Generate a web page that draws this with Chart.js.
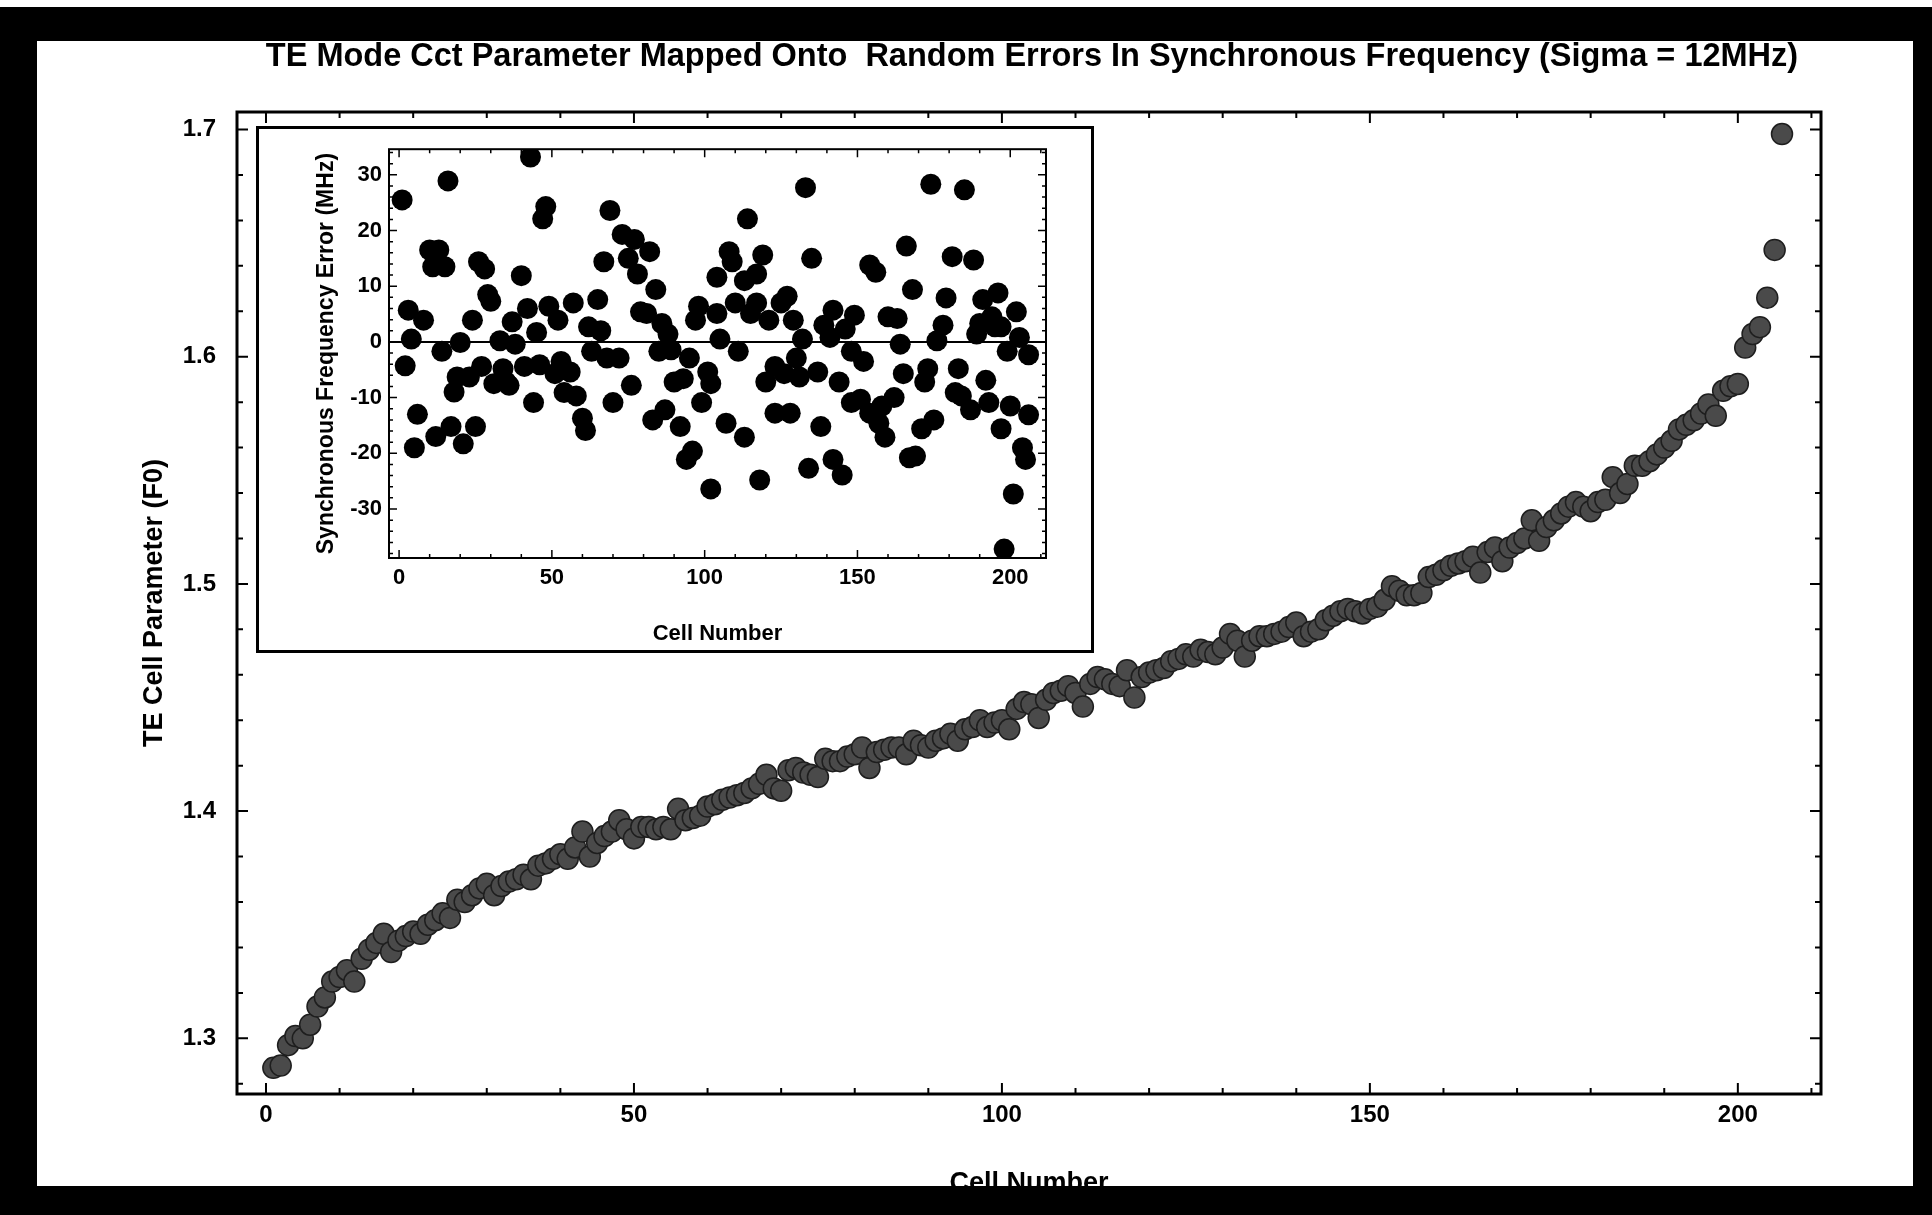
<!DOCTYPE html>
<html>
<head>
<meta charset="utf-8">
<title>TE Mode Cct Parameter</title>
<script src="https://cdn.jsdelivr.net/npm/chart.js@4.4.1/dist/chart.umd.min.js"></script>
<style>
  html, body { margin: 0; padding: 0; background: #fff; }
  body { width: 1932px; height: 1215px; position: relative; overflow: hidden; font-family: "Liberation Sans", Arial, sans-serif; }
  .band { position: absolute; background: #000; z-index: 10; }
  #mainChart { position: absolute; left: 0; top: 0; z-index: 1; }
  #title { position: absolute; left: 1032px; top: 36px; transform: translateX(-50%); font-weight: bold; font-size: 32.5px; line-height: 38px; white-space: pre; z-index: 3; color: #000; }
  #inset { position: absolute; left: 256px; top: 126px; width: 838px; height: 527px; box-sizing: border-box; border: 3px solid #000; background: #fff; z-index: 2; }
  #insetChart { position: absolute; left: 0; top: 0; }
</style>
</head>
<body>
<div class="band" style="left:0;top:7px;width:1932px;height:34px"></div>
<div class="band" style="left:0;top:7px;width:37px;height:1208px"></div>
<div class="band" style="left:1913px;top:7px;width:19px;height:1208px"></div>
<div class="band" style="left:0;top:1186px;width:1932px;height:29px"></div>

<div id="title">TE Mode Cct Parameter Mapped Onto  Random Errors In Synchronous Frequency (Sigma = 12MHz)</div>
<canvas id="mainChart" width="1932" height="1215"></canvas>
<div id="inset"><canvas id="insetChart" width="832" height="521"></canvas></div>

<script>
// main plot: TE cell parameter for each cell
const cellNumbers = Array.from({ length: 206 }, (_, i) => i + 1);
const teParameter = [
  1.287, 1.288, 1.297, 1.301, 1.300, 1.306, 1.314, 1.318, 1.325, 1.327,
  1.330, 1.325, 1.335, 1.339, 1.342, 1.346, 1.338, 1.343, 1.345, 1.347,
  1.346, 1.350, 1.352, 1.355, 1.353, 1.361, 1.360, 1.363, 1.366, 1.368,
  1.363, 1.367, 1.369, 1.370, 1.372, 1.370, 1.376, 1.377, 1.379, 1.381,
  1.379, 1.384, 1.391, 1.380, 1.386, 1.389, 1.391, 1.396, 1.392, 1.388,
  1.393, 1.393, 1.392, 1.393, 1.392, 1.401, 1.396, 1.397, 1.398, 1.402,
  1.403, 1.405, 1.406, 1.407, 1.408, 1.410, 1.412, 1.416, 1.410, 1.409,
  1.418, 1.419, 1.417, 1.416, 1.415, 1.423, 1.422, 1.422, 1.424, 1.425,
  1.428, 1.419, 1.426, 1.427, 1.428, 1.428, 1.425, 1.431, 1.429, 1.428,
  1.431, 1.432, 1.434, 1.431, 1.436, 1.437, 1.440, 1.437, 1.439, 1.440,
  1.436, 1.445, 1.448, 1.447, 1.441, 1.449, 1.452, 1.453, 1.455, 1.452,
  1.446, 1.456, 1.459, 1.458, 1.456, 1.455, 1.462, 1.450, 1.459, 1.461,
  1.462, 1.463, 1.466, 1.467, 1.469, 1.468, 1.471, 1.470, 1.469, 1.472,
  1.478, 1.475, 1.468, 1.475, 1.477, 1.477, 1.478, 1.479, 1.481, 1.483,
  1.477, 1.479, 1.480, 1.484, 1.486, 1.488, 1.489, 1.488, 1.487, 1.489,
  1.490, 1.493, 1.499, 1.497, 1.495, 1.495, 1.496, 1.503, 1.504, 1.506,
  1.508, 1.509, 1.510, 1.512, 1.505, 1.514, 1.516, 1.510, 1.516, 1.518,
  1.520, 1.528, 1.519, 1.525, 1.528, 1.531, 1.534, 1.536, 1.534, 1.532,
  1.536, 1.537, 1.547, 1.540, 1.544, 1.552, 1.552, 1.554, 1.557, 1.560,
  1.563, 1.568, 1.570, 1.572, 1.575, 1.579, 1.574, 1.585, 1.587, 1.588,
  1.604, 1.610, 1.613, 1.626, 1.647, 1.698
];
const mainXTicks = [0, 50, 100, 150, 200];
const mainYTicks = [1.3, 1.4, 1.5, 1.6, 1.7];

// inset: synchronous frequency error (MHz) per cell
const insetCells = [
  1, 2, 3, 4, 5, 6, 8, 10, 11, 12,
  13, 14, 15, 16, 17, 18, 19, 20, 21, 23,
  24, 25, 26, 27, 28, 29, 30, 31, 33, 34,
  35, 36, 37, 38, 40, 41, 42, 43, 44, 45,
  47, 48, 46, 49, 51, 52, 53, 54, 56, 57,
  58, 60, 61, 62, 63, 65, 66, 67, 68, 69,
  70, 72, 73, 75, 76, 77, 78, 79, 81, 82,
  83, 84, 85, 86, 87, 88, 89, 90, 92, 93,
  94, 95, 96, 97, 98, 99, 101, 102, 102, 104,
  104, 105, 107, 108, 109, 110, 111, 113, 113, 114,
  115, 117, 117, 118, 119, 120, 121, 123, 123, 125,
  126, 127, 128, 129, 130, 131, 132, 133, 134, 135,
  137, 138, 139, 141, 142, 142, 144, 145, 146, 148,
  149, 148, 151, 152, 154, 154, 156, 157, 158, 159,
  160, 162, 163, 164, 165, 166, 167, 168, 169, 171,
  172, 173, 174, 175, 176, 178, 179, 181, 182, 183,
  184, 185, 187, 188, 189, 190, 191, 192, 193, 194,
  195, 196, 197, 197, 199, 198, 200, 201, 202, 203,
  204, 205, 206, 206
];
const freqErrors = [
  25.5, -4.3, 5.7, 0.5, -19, -13, 3.9, 16.5, 13.5, -17,
  16.5, -1.7, 13.5, 28.9, -15.2, -9, -6.3, -0.1, -18.3, -6.3,
  3.9, -15.2, 14.4, -4.4, 13.1, 8.5, 7.3, -7.5, 0.2, -4.8,
  -7.2, -7.8, 3.6, -0.4, 11.9, -4.4, 6, 33.2, -10.9, 1.7,
  22.1, 24.3, -4.1, 6.4, -5.7, 3.9, -3.5, -9.1, -5.4, 7,
  -9.7, -13.7, -15.9, 2.7, -1.7, 7.6, 2, 14.4, -2.9, 23.6,
  -10.9, -2.9, 19.3, 15, -7.8, 18.4, 12.2, 5.4, 5.1, 16.2,
  -14, 9.4, -1.7, 3.3, -12.2, 1.4, -1.4, -7.2, -15.2, -6.6,
  -21.1, -2.9, -19.6, 3.9, 6.4, -10.9, -5.4, -7.5, -26.4, 5.1,
  11.6, 0.5, -14.6, 16.2, 14.4, 7, -1.7, -17.1, 11, 22.1,
  5.1, 12.2, 7, -24.8, 15.6, -7.2, 3.9, -4.4, -12.8, 7,
  -5.7, 8.2, -12.8, 3.9, -2.9, -6.3, 0.5, 27.7, -22.7, 15,
  -5.4, -15.2, 3, 0.8, 5.7, -21.1, -7.2, -23.9, 2.3, -1.7,
  4.8, -10.9, -10.3, -3.5, -12.8, 13.8, 12.5, -14.6, -11.5, -17.1,
  4.5, -10, 4.2, -0.4, -5.7, 17.2, -20.8, 9.4, -20.5, -15.6,
  -7.2, -4.8, 28.3, -14, 0.2, 3, 7.9, 15.3, -9.1, -4.8,
  -9.7, 27.3, -12.2, 14.7, 1.4, 3.3, 7.6, -6.9, -10.9, 4.5,
  2.7, 8.8, 2.7, -15.6, -1.7, -37.2, -11.5, -27.3, 5.4, 0.8,
  -19, -21.1, -13.1, -2.3
];
const insetXTicks = [0, 50, 100, 150, 200];
const insetYTicks = [-30, -20, -10, 0, 10, 20, 30];

const FONT = '"Liberation Sans", Arial, sans-serif';
Chart.defaults.font.family = FONT;
Chart.defaults.color = '#000';

// frame + inward tick marks on all four sides, optional zero line
const boxTicks = {
  id: 'boxTicks',
  beforeDatasetsDraw(chart, args, o) {
    if (!o.zeroLine) return;
    const { ctx, chartArea: a, scales: { y } } = chart;
    const py = y.getPixelForValue(0);
    ctx.save();
    ctx.strokeStyle = '#000';
    ctx.lineWidth = 2;
    ctx.beginPath();
    ctx.moveTo(a.left, py);
    ctx.lineTo(a.right, py);
    ctx.stroke();
    ctx.restore();
  },
  afterDatasetsDraw(chart, args, o) {
    const { ctx, chartArea: a, scales: { x, y } } = chart;
    ctx.save();
    ctx.strokeStyle = '#000';
    ctx.lineWidth = o.tickWidth;
    ctx.beginPath();
    const isMajor = (v, step) => Math.abs(v / step - Math.round(v / step)) < 1e-6;
    for (let k = 0; ; k++) {
      const v = o.xStart + k * o.xMinor;
      if (v > x.max) break;
      const px = x.getPixelForValue(v);
      const len = isMajor(v, o.xMajor) ? o.major : o.minor;
      ctx.moveTo(px, a.bottom); ctx.lineTo(px, a.bottom - len);
      ctx.moveTo(px, a.top); ctx.lineTo(px, a.top + len);
    }
    for (let k = 0; ; k++) {
      const v = o.yStart + k * o.yMinor;
      if (v > y.max) break;
      const py = y.getPixelForValue(v);
      const len = isMajor(v, o.yMajor) ? o.major : o.minor;
      ctx.moveTo(a.left, py); ctx.lineTo(a.left + len, py);
      ctx.moveTo(a.right, py); ctx.lineTo(a.right - len, py);
    }
    ctx.stroke();
    ctx.lineWidth = o.frameWidth;
    ctx.strokeRect(a.left, a.top, a.right - a.left, a.bottom - a.top);
    ctx.restore();
  }
};

const setTicks = (list) => (scale) => { scale.ticks = list.map(v => ({ value: v })); };

new Chart(document.getElementById('mainChart'), {
  type: 'scatter',
  data: {
    datasets: [{
      data: cellNumbers.map((c, i) => ({ x: c, y: teParameter[i] })),
      backgroundColor: '#4a4a4a',
      borderColor: '#1e1e1e',
      borderWidth: 1.5,
      pointRadius: 10.5,
      pointHoverRadius: 10.5
    }]
  },
  options: {
    responsive: false,
    animation: false,
    events: [],
    layout: { padding: { left: 40, top: 112, right: 111, bottom: 0 } },
    plugins: {
      legend: { display: false },
      tooltip: { enabled: false },
      boxTicks: { xStart: 0, xMinor: 10, xMajor: 50, yStart: 1.28, yMinor: 0.02, yMajor: 0.1,
                  major: 11, minor: 6, tickWidth: 2, frameWidth: 3 }
    },
    scales: {
      x: {
        type: 'linear', min: -3.94, max: 211.3,
        grid: { display: false, drawTicks: false },
        border: { display: false },
        afterBuildTicks: setTicks(mainXTicks),
        afterFit: (s) => { s.height = 121; },
        ticks: { padding: 7, maxRotation: 0, font: { size: 24, weight: 'bold' } },
        title: { display: true, text: 'Cell Number', font: { size: 27, weight: 'bold' }, padding: { top: 0, bottom: 15 } }
      },
      y: {
        type: 'linear', min: 1.2755, max: 1.7077,
        grid: { display: false, drawTicks: false },
        border: { display: false },
        afterBuildTicks: setTicks(mainYTicks),
        afterFit: (s) => { s.width = 197; },
        ticks: { padding: 21, font: { size: 24, weight: 'bold' }, callback: (v) => v.toFixed(1) },
        title: { display: true, text: 'TE Cell Parameter (F0)', font: { size: 27, weight: 'bold' }, padding: { top: 98, bottom: 0 } }
      }
    }
  },
  plugins: [boxTicks]
});

new Chart(document.getElementById('insetChart'), {
  type: 'scatter',
  data: {
    datasets: [{
      data: insetCells.map((c, i) => ({ x: c, y: freqErrors[i] })),
      backgroundColor: '#000',
      borderColor: '#000',
      borderWidth: 0,
      pointRadius: 10.5,
      pointHoverRadius: 10.5
    }]
  },
  options: {
    responsive: false,
    animation: false,
    events: [],
    layout: { padding: { left: 0, top: 18, right: 45, bottom: 0 } },
    plugins: {
      legend: { display: false },
      tooltip: { enabled: false },
      boxTicks: { xStart: 0, xMinor: 10, xMajor: 50, yStart: -38, yMinor: 2, yMajor: 10,
                  major: 8, minor: 4, tickWidth: 1.5, frameWidth: 2, zeroLine: true }
    },
    scales: {
      x: {
        type: 'linear', min: -3.3, max: 211.7,
        grid: { display: false, drawTicks: false },
        border: { display: false },
        afterBuildTicks: setTicks(insetXTicks),
        afterFit: (s) => { s.height = 92; },
        ticks: { padding: 7, maxRotation: 0, font: { size: 22, weight: 'bold' } },
        title: { display: true, text: 'Cell Number', font: { size: 22, weight: 'bold' }, padding: { top: 0, bottom: 2.5 } }
      },
      y: {
        type: 'linear', min: -38.8, max: 34.6,
        grid: { display: false, drawTicks: false },
        border: { display: false },
        afterBuildTicks: setTicks(insetYTicks),
        afterFit: (s) => { s.width = 130; },
        ticks: { padding: 7, font: { size: 22, weight: 'bold' } },
        title: { display: true, text: 'Synchronous Frequency Error (MHz)', font: { size: 23, weight: 'bold' }, padding: { top: 54, bottom: 0 } }
      }
    }
  },
  plugins: [boxTicks]
});
</script>
</body>
</html>
